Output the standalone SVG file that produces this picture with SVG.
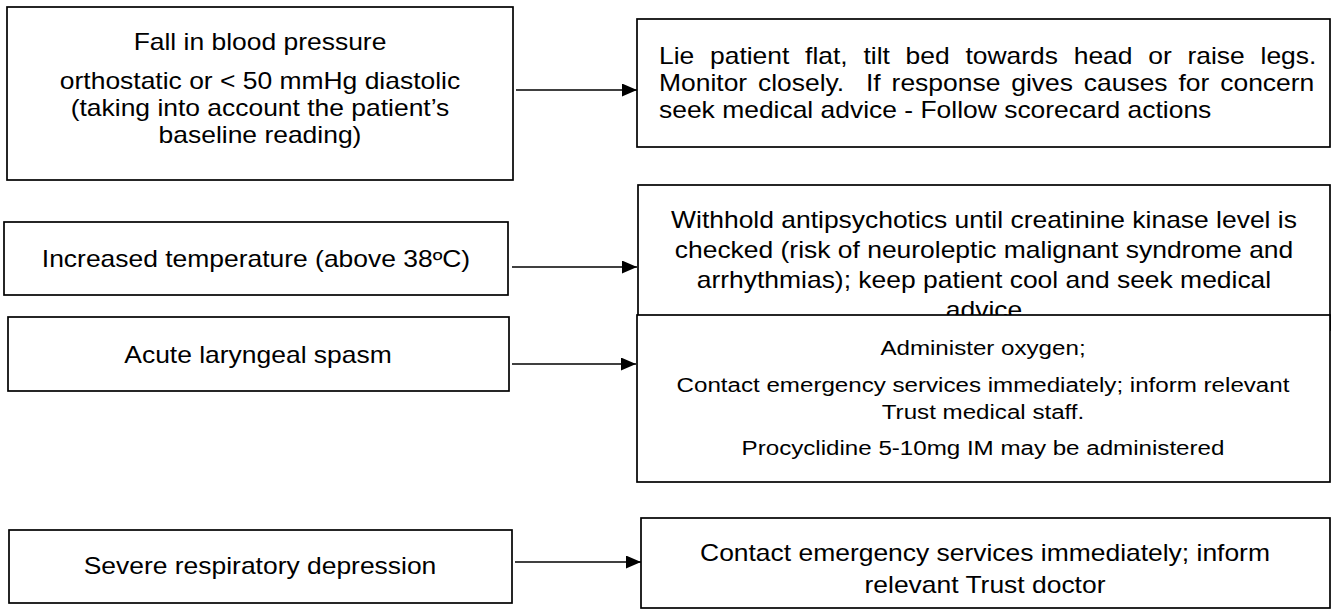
<svg xmlns="http://www.w3.org/2000/svg" width="1334" height="610" viewBox="0 0 1334 610">
<style>
  .box { fill: #fff; stroke: #000; stroke-width: 1.7; }
  .t { font-family: "Liberation Sans", Arial, sans-serif; font-size: 23px; fill: #000; text-anchor: middle; }
  .ts { font-family: "Liberation Sans", Arial, sans-serif; font-size: 21px; fill: #000; text-anchor: middle; }
  .tj { font-family: "Liberation Sans", Arial, sans-serif; font-size: 23px; fill: #000; white-space: pre; }
  .conn { stroke: #000; stroke-width: 1.7; fill: none; marker-end: url(#arr); }
</style>
<defs>
  <marker id="arr" markerUnits="userSpaceOnUse" markerWidth="15" markerHeight="13" refX="15" refY="6.5" orient="auto">
    <path d="M0,0 L15,6.5 L0,13 z" fill="#000"/>
  </marker>
</defs>
<rect width="1334" height="610" fill="#fff"/>

<g id="n1">
  <rect class="box" x="7" y="7" width="506" height="173"/>
  <g transform="translate(260,0) scale(1.15,1)">
    <text class="t" x="0" y="50">Fall in blood pressure</text>
    <text class="t" x="0" y="89">orthostatic or &lt; 50 mmHg diastolic</text>
    <text class="t" x="0" y="116">(taking into account the patient’s</text>
    <text class="t" x="0" y="143">baseline reading)</text>
  </g>
</g>

<g id="n2">
  <rect class="box" x="637" y="19" width="693" height="128"/>
  <g transform="translate(659,0) scale(1.15,1)">
    <text class="tj" x="0" y="64" word-spacing="7.3">Lie patient flat, tilt bed towards head or raise legs.</text>
    <text class="tj" x="0" y="91" word-spacing="3.1">Monitor closely.  If response gives causes for concern</text>
    <text class="tj" x="0" y="118">seek medical advice - Follow scorecard actions</text>
  </g>
</g>

<g id="n3">
  <rect class="box" x="4" y="222" width="504" height="73"/>
  <g transform="translate(256,0) scale(1.15,1)">
    <text class="t" x="0" y="267">Increased temperature (above 38ºC)</text>
  </g>
</g>

<g id="n4">
  <rect class="box" x="638" y="185" width="692" height="145"/>
  <g transform="translate(984,0) scale(1.15,1)">
    <text class="t" x="0" y="228">Withhold antipsychotics until creatinine kinase level is</text>
    <text class="t" x="0" y="258">checked (risk of neuroleptic malignant syndrome and</text>
    <text class="t" x="0" y="288">arrhythmias); keep patient cool and seek medical</text>
    <text class="t" x="0" y="318">advice</text>
  </g>
</g>

<g id="n5">
  <rect class="box" x="8" y="317" width="501" height="74"/>
  <g transform="translate(258,0) scale(1.15,1)">
    <text class="t" x="0" y="363">Acute laryngeal spasm</text>
  </g>
</g>

<g id="n6">
  <rect class="box" x="637" y="315" width="693" height="167"/>
  <g transform="translate(983,0) scale(1.15,1)">
    <text class="ts" x="0" y="355">Administer oxygen;</text>
    <text class="ts" x="0" y="392">Contact emergency services immediately; inform relevant</text>
    <text class="ts" x="0" y="419">Trust medical staff.</text>
    <text class="ts" x="0" y="455">Procyclidine 5-10mg IM may be administered</text>
  </g>
</g>

<g id="n7">
  <rect class="box" x="9" y="530" width="503" height="73"/>
  <g transform="translate(260,0) scale(1.15,1)">
    <text class="t" x="0" y="574">Severe respiratory depression</text>
  </g>
</g>

<g id="n8">
  <rect class="box" x="641" y="518" width="689" height="90"/>
  <g transform="translate(985,0) scale(1.15,1)">
    <text class="t" x="0" y="561">Contact emergency services immediately; inform</text>
    <text class="t" x="0" y="593">relevant Trust doctor</text>
  </g>
</g>

<g id="connectors">
  <line class="conn" x1="516" y1="90" x2="637" y2="90"/>
  <line class="conn" x1="512" y1="267" x2="637" y2="267"/>
  <line class="conn" x1="512" y1="364" x2="636" y2="364"/>
  <line class="conn" x1="515" y1="562" x2="641" y2="562"/>
</g>
</svg>
